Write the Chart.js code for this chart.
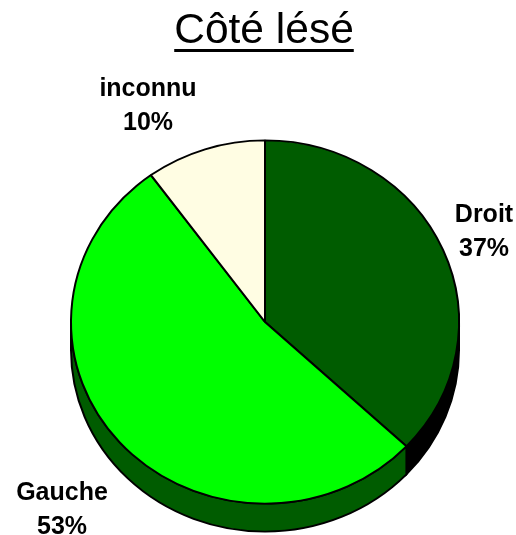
<!DOCTYPE html>
<html>
<head>
<meta charset="utf-8">
<script src="https://cdn.jsdelivr.net/npm/chart.js@4.4.0/dist/chart.umd.min.js"></script>
<style>
  html, body { margin: 0; padding: 0; background: #fff; }
</style>
</head>
<body>
<canvas id="pie-chart" width="516" height="535"></canvas>
<script>
const labels = ['Droit', 'Gauche', 'inconnu'];
const values = [37, 53, 10];
const sliceColors = ['#005c00', '#00ff00', '#fffde3'];
const sideColors = ['#000000', '#005c00', '#bdbb9a'];
const titleText = 'Côté lésé';

const SY = 0.936;   // vertical squash of the pie (tilt)
const DEPTH = 28;   // thickness of the pie side, px

// label anchors: centre x, baseline of the first line
const labelPos = [
    { x: 484, y: 222 },
    { x: 62, y: 500 },
    { x: 148, y: 96 }
];

const tiltPlugin = {
    id: 'tilt',
    beforeDatasetsDraw(chart) {
        const ctx = chart.ctx;
        const meta = chart.getDatasetMeta(0);
        const { x, y, outerRadius } = meta.data[0];
        ctx.save();
        ctx.translate(x, y);
        ctx.scale(1, SY);
        ctx.translate(-x, -y);
        const d = DEPTH / SY;
        meta.data.forEach((arc, i) => {
            const a = Math.max(arc.startAngle, 0);
            const b = Math.min(arc.endAngle, Math.PI);
            if (b <= a) return;
            ctx.beginPath();
            ctx.arc(x, y, outerRadius, a, b);
            ctx.arc(x, y + d, outerRadius, b, a, true);
            ctx.closePath();
            ctx.fillStyle = sideColors[i];
            ctx.fill();
            ctx.lineWidth = 2;
            ctx.strokeStyle = '#000';
            ctx.stroke();
        });
    },
    afterDatasetsDraw(chart) {
        chart.ctx.restore();
    },
    afterDraw(chart) {
        const ctx = chart.ctx;
        ctx.save();
        // title, underlined
        ctx.font = '42.5px "Liberation Sans", Arial, sans-serif';
        ctx.fillStyle = '#000';
        ctx.textAlign = 'center';
        ctx.textBaseline = 'alphabetic';
        const tx = 264, ty = 43;
        ctx.fillText(titleText, tx, ty);
        const w = ctx.measureText(titleText).width;
        ctx.fillRect(tx - w / 2, ty + 6, w, 3);

        // slice labels
        const total = values.reduce((s, v) => s + v, 0);
        ctx.font = 'bold 25px "Liberation Sans", Arial, sans-serif';
        labels.forEach((lab, i) => {
            const p = labelPos[i];
            const pct = Math.round(values[i] / total * 100) + '%';
            ctx.fillText(lab, p.x, p.y);
            ctx.fillText(pct, p.x, p.y + 34);
        });
        ctx.restore();
    }
};

const ctx = document.getElementById('pie-chart').getContext('2d');
new Chart(ctx, {
    type: 'pie',
    data: {
        labels: labels,
        datasets: [{
            data: values,
            backgroundColor: sliceColors,
            borderColor: '#000',
            borderWidth: 2,
            clip: false
        }]
    },
    options: {
        responsive: false,
        animation: false,
        devicePixelRatio: 1,
        layout: {
            padding: { left: 70, right: 56, top: 127, bottom: 18 }
        },
        plugins: {
            legend: { display: false },
            title: { display: false },
            tooltip: { enabled: false }
        }
    },
    plugins: [tiltPlugin]
});
</script>
</body>
</html>
